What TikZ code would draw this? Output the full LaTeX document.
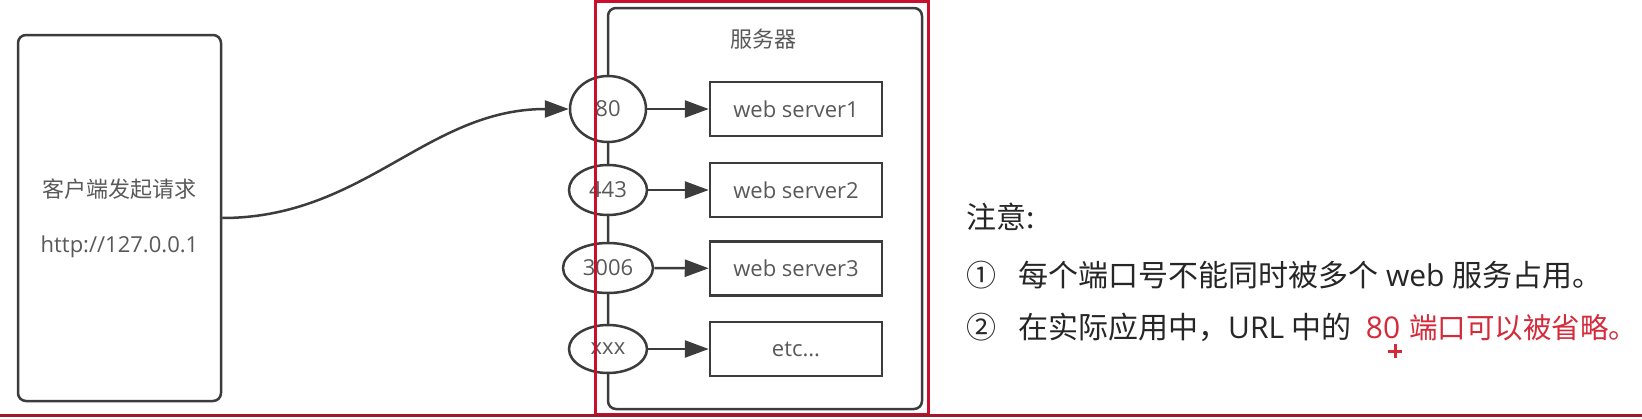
\documentclass[tikz,border=0pt]{standalone}
\usepackage{fontspec}
\setmainfont{Open Sans}
\newfontfamily\cjk{Noto Sans CJK SC}
\usetikzlibrary{shapes.geometric,arrows.meta}
\definecolor{linegray}{HTML}{3C3C3C}
\definecolor{txtgray}{HTML}{595959}
\definecolor{notetxt}{HTML}{262626}
\definecolor{notered}{HTML}{D42A3A}
\definecolor{framered}{HTML}{C8102E}
\definecolor{barred}{HTML}{A0182B}
\begin{document}
\begin{tikzpicture}[x=1pt,y=-1pt,
  dfont/.style={font=\fontsize{22}{26}\selectfont},
  nfont/.style={font=\fontsize{30}{36}\selectfont},
  roundbox/.style={draw=linegray, line width=2.5pt, rounded corners=8pt, inner sep=0pt, text=txtgray, dfont},
  srvbox/.style={draw=linegray, line width=2.5pt, inner sep=0pt, text=txtgray, dfont, minimum width=172pt, minimum height=54pt},
  port/.style={ellipse, draw=linegray, fill=white, line width=2.5pt, inner sep=0pt, text=txtgray, dfont},
  conn/.style={draw=linegray, line width=2.5pt, -{Triangle[length=24pt,width=17pt]}},
  plain/.style={inner sep=0pt},
]
\fill[white] (0,0) rectangle (1642,418);
\useasboundingbox (0,0) rectangle (1642,418);

% client
\node[roundbox, minimum width=203pt, minimum height=366pt, align=center] (client) at (119.5,218)
  {{\cjk 客户端发起请求}\\[29pt]http://127.0.0.1};

% server frame
\node[roundbox, minimum width=314pt, minimum height=401pt] (server) at (765,208.5) {};
\node[plain, text=txtgray, dfont] (srvtitle) at (763,39) {\cjk 服务器};

% ports
\node[port, minimum width=76pt, minimum height=66pt] (p80) at (608,109) {80};
\node[port, minimum width=78pt, minimum height=50pt] (p443) at (608,190) {443};
\node[port, minimum width=90pt, minimum height=50pt] (p3006) at (608,268) {3006};
\node[port, minimum width=78pt, minimum height=48pt] (pxxx) at (608,349) {xxx};

% web servers
\node[srvbox] (w1) at (796,109) {web server1};
\node[srvbox] (w2) at (796,190) {web server2};
\node[srvbox] (w3) at (796,268.5) {web server3};
\node[srvbox] (w4) at (796,349) {etc...};

\draw[conn] (p80) -- (w1);
\draw[conn] (p443) -- (w2);
\draw[conn] (p3006) -- (w3);
\draw[conn] (pxxx) -- (w4);

\draw[conn] (client.east) to[out=0,in=180] (p80.west);

% notes
\node[plain, anchor=west, text=notetxt, nfont] (note) at (966,217) {\cjk 注意:};
\node[plain, anchor=west, text=notetxt, nfont] (c1) at (966,275) {\cjk ①};
\node[plain, anchor=west, text=notetxt, nfont] (t1) at (1018,275)
  {{\cjk 每个端口号不能同时被多个} web {\cjk 服务占用。}};
\node[plain, anchor=west, text=notetxt, nfont] (c2) at (966,327) {\cjk ②};
\node[plain, anchor=west, text=notetxt, nfont] (t2) at (1018,327)
  {{\cjk 在实际应用中，}URL {\cjk 中的}\hspace{14pt}\textcolor{notered}{80\hspace{9pt}{\fontsize{28.5}{36}\selectfont\cjk 端口可以被省略。}}};

% cursor mark
\draw[notered, line width=3pt] (1388,351) -- (1402,351) (1395,344) -- (1395,358);

% red highlight frame and bottom bar
\draw[framered, line width=3pt] (595,1.5) rectangle (928,414);
\draw[barred, line width=3pt] (0,415) -- (1642,415);
\end{tikzpicture}
\end{document}
